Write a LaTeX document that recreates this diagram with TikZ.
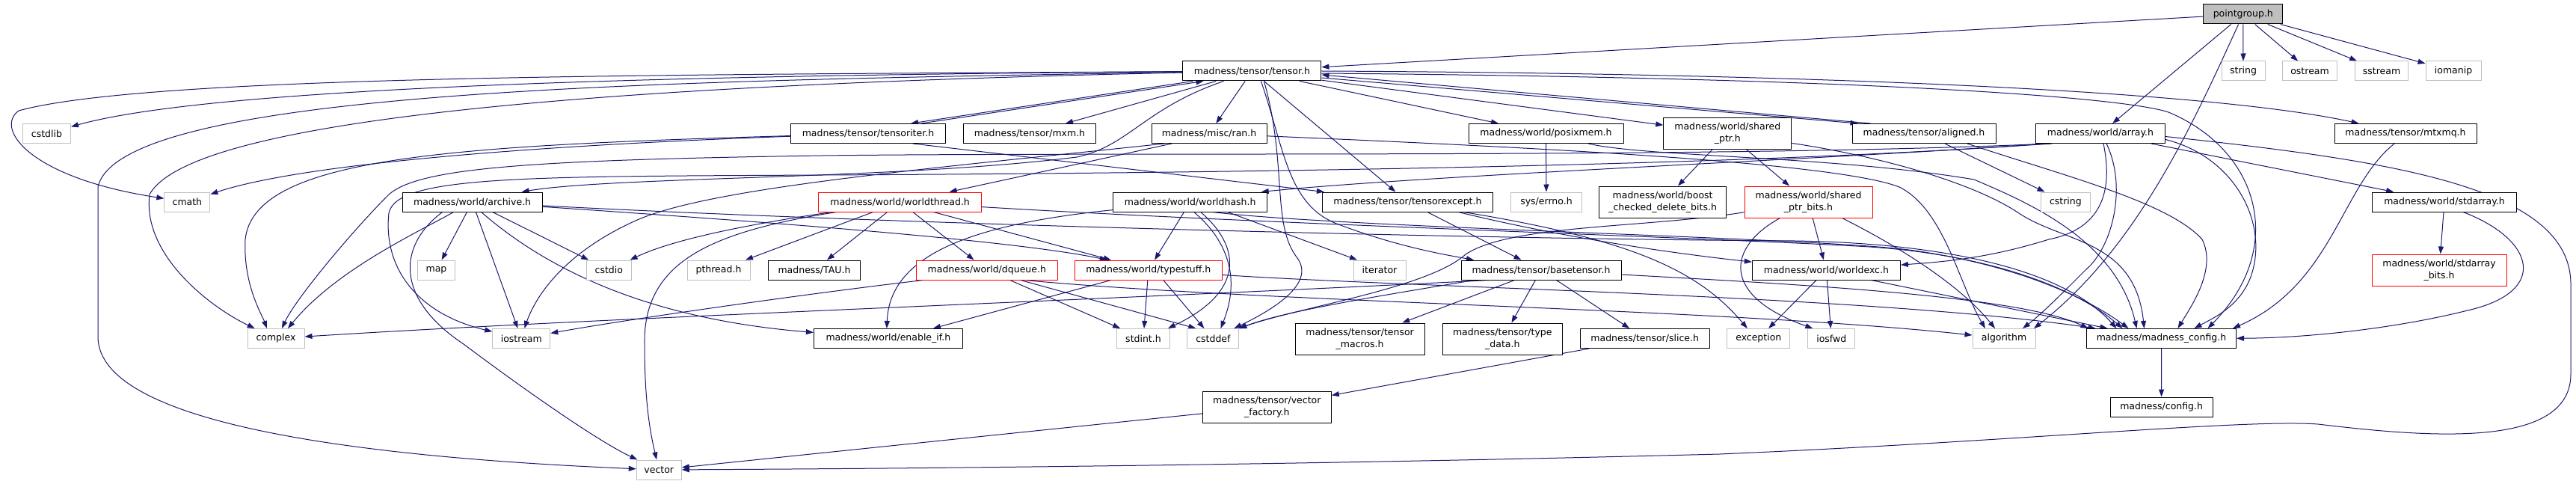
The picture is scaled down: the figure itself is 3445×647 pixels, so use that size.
\documentclass[tikz,border=0pt]{standalone}
\usepackage{fontspec}
\setmainfont{DejaVu Sans}
\usetikzlibrary{arrows.meta}
\pgfdeclarelayer{bg}
\pgfsetlayers{bg,main}
\definecolor{edgec}{HTML}{191970}
\definecolor{sysb}{HTML}{BFBFBF}
\definecolor{redb}{HTML}{FF0000}
\begin{document}
\begin{tikzpicture}[x=1pt,y=-1pt,
  nbox/.style={draw=black, line width=1pt, fill=white, inner sep=0pt, minimum height=26pt, align=center, font=\fontsize{12.5}{16}\selectfont},
  sbox/.style={nbox, draw=sysb},
  rbox/.style={nbox, draw=redb},
  pgbox/.style={nbox, fill=sysb},
  tall/.style={minimum height=42pt},
  e/.style={draw=edgec, line width=1pt, -{Triangle[length=10pt,width=7pt]}}]
\useasboundingbox (0,0) rectangle (3445,647);
% row 0-1
\node[pgbox, minimum width=106] (pg) at (2999.8,19) {pointgroup.h};
\node[nbox, minimum width=185] (tensor) at (1674.4,95) {madness/tensor/tensor.h};
\node[sbox, minimum width=58] (string) at (3000,95) {string};
\node[sbox, minimum width=73] (ostream) at (3089,95) {ostream};
\node[sbox, minimum width=71] (sstream) at (3185,95) {sstream};
\node[sbox, minimum width=74] (iomanip) at (3281,95) {iomanip};
% row 2
\node[sbox, minimum width=64] (cstdlib) at (62.5,178.5) {cstdlib};
\node[nbox, minimum width=207] (titer) at (1161,178.5) {madness/tensor/tensoriter.h};
\node[nbox, minimum width=177] (mxm) at (1377,178.5) {madness/tensor/mxm.h};
\node[nbox, minimum width=154] (ran) at (1617,178.5) {madness/misc/ran.h};
\node[nbox, minimum width=207] (posix) at (2067.5,178.5) {madness/world/posixmem.h};
\node[nbox, tall, minimum width=171] (sptr) at (2310.3,178.5) {madness/world/shared\\\_ptr.h};
\node[nbox, minimum width=192] (aligned) at (2573,178.5) {madness/tensor/aligned.h};
\node[nbox, minimum width=173] (array) at (2809,178.5) {madness/world/array.h};
\node[nbox, minimum width=190] (mtxmq) at (3217,178.5) {madness/tensor/mtxmq.h};
% row 3
\node[sbox, minimum width=61] (cmath) at (250.4,270) {cmath};
\node[nbox, minimum width=187] (archive) at (631.6,270) {madness/world/archive.h};
\node[rbox, minimum width=218] (wthread) at (1203.6,270) {madness/world/worldthread.h};
\node[nbox, minimum width=206] (whash) at (1591.7,270) {madness/world/worldhash.h};
\node[nbox, minimum width=228] (texcept) at (1882.4,270) {madness/tensor/tensorexcept.h};
\node[sbox, minimum width=95] (errno) at (2068,270) {sys/errno.h};
\node[nbox, tall, minimum width=170] (boost) at (2223.6,270) {madness/world/boost\\\_checked\_delete\_bits.h};
\node[rbox, tall, minimum width=171] (sptrbits) at (2418.5,270) {madness/world/shared\\\_ptr\_bits.h};
\node[sbox, minimum width=66] (cstring) at (2762.4,270) {cstring};
\node[nbox, minimum width=193] (stdarray) at (3269,270) {madness/world/stdarray.h};
% row 4
\node[sbox, minimum width=50] (map) at (583.5,361) {map};
\node[sbox, minimum width=60] (cstdio) at (814.3,361) {cstdio};
\node[sbox, minimum width=84] (pthread) at (961,361) {pthread.h};
\node[nbox, minimum width=123] (tau) at (1089,361) {madness/TAU.h};
\node[rbox, minimum width=189] (dqueue) at (1319.8,361) {madness/world/dqueue.h};
\node[rbox, minimum width=197] (typestuff) at (1535.8,361) {madness/world/typestuff.h};
\node[sbox, minimum width=70] (iterator) at (1845,361) {iterator};
\node[nbox, minimum width=214] (basetensor) at (2061,361) {madness/tensor/basetensor.h};
\node[nbox, minimum width=198] (worldexc) at (2442.4,361) {madness/world/worldexc.h};
\node[rbox, tall, minimum width=180] (stdarraybits) at (3262,361) {madness/world/stdarray\\\_bits.h};
% row 5
\node[sbox, minimum width=76] (complex) at (369,452.5) {complex};
\node[sbox, minimum width=77] (iostream) at (697.3,452.5) {iostream};
\node[nbox, minimum width=199] (enableif) at (1187.9,452.5) {madness/world/enable\_if.h};
\node[sbox, minimum width=71] (stdint) at (1529,452.5) {stdint.h};
\node[sbox, minimum width=69] (cstddef) at (1622.4,452.5) {cstddef};
\node[nbox, tall, minimum width=173] (tmacros) at (1818.6,453) {madness/tensor/tensor\\\_macros.h};
\node[nbox, tall, minimum width=160] (typedata) at (2009.3,453) {madness/tensor/type\\\_data.h};
\node[nbox, minimum width=173] (slice) at (2199.7,452.5) {madness/tensor/slice.h};
\node[sbox, minimum width=84] (exception) at (2351.8,452.5) {exception};
\node[sbox, minimum width=63] (iosfwd) at (2449.3,452.5) {iosfwd};
\node[sbox, minimum width=84] (algorithm) at (2680,452.5) {algorithm};
\node[nbox, minimum width=200] (mconfig) at (2890.5,452.5) {madness/madness\_config.h};
% row 6-7
\node[nbox, tall, minimum width=172] (vfactory) at (1694.3,544) {madness/tensor/vector\\\_factory.h};
\node[nbox, minimum width=137] (config) at (2890.6,544) {madness/config.h};
\node[sbox, minimum width=60] (vector) at (881.3,628) {vector};

\begin{pgfonlayer}{bg}
\fill[white] (0,0) rectangle (3445,647);
% pointgroup
\draw[e] (pg) -- (string);
\draw[e] (pg) -- (ostream);
\draw[e] (pg) -- (sstream);
\draw[e] (pg) -- (iomanip);
\draw[e] (pg) -- (tensor);
\draw[e] (pg) -- (array);
\draw[e] (pg) .. controls (2935,160) and (2860,330) .. ([xshift=40pt]algorithm.north);
% tensor
\draw[e] (tensor) .. controls (1000,100) and (300,112) .. (cstdlib);
\draw[e] (tensor) .. controls (900,100) and (200,100) .. (25,148) .. controls (-8,172) and (40,238) .. (cmath);
\draw[e] (tensor) .. controls (900,108) and (160,118) .. (131,250) -- (131,450) .. controls (131,570) and (500,612) .. (vector);
\draw[e] (tensor) .. controls (900,112) and (260,150) .. (200,260) .. controls (190,340) and (280,410) .. (complex);
\draw[e] ([xshift=14pt]tensor.south west) -- ([xshift=-47pt]titer.north east);
\draw[e] ([xshift=-33pt]titer.north east) -- ([xshift=28pt]tensor.south west);
\draw[e] (tensor) -- (mxm);
\draw[e] (tensor) -- (ran);
\draw[e] (tensor) -- (posix);
\draw[e] (tensor) -- (sptr);
\draw[e] ([yshift=-9pt]tensor.east) -- ([xshift=8pt]aligned.north west);
\draw[e] ([xshift=25pt]aligned.north west) -- ([yshift=-5pt]tensor.east);
\draw[e] (tensor.east) .. controls (2400,98) and (2950,120) .. ([xshift=33pt]mtxmq.north west);
\draw[e] ([yshift=-3pt]tensor.east) .. controls (2500,104) and (2840,130) .. (2900,150) .. controls (3020,200) and (3060,330) .. ([xshift=62pt]mconfig.north);
\draw[e] ([xshift=-38pt]tensor.south) .. controls (1530,145) and (1510,195) .. (1440,210) .. controls (1200,240) and (820,236) .. ([xshift=66pt]archive.north);
\draw[e] (tensor) -- (texcept);
\draw[e] ([xshift=12pt]tensor.south) .. controls (1718,200) and (1722,275) .. (1790,300) .. controls (1870,330) and (1930,340) .. ([xshift=-90pt]basetensor.north);
\draw[e] ([xshift=16pt]tensor.south) .. controls (1722,220) and (1700,300) .. (1735,345) .. controls (1760,380) and (1700,415) .. ([xshift=28pt]cstddef.north);
% tensoriter
\draw[e] (titer) .. controls (600,195) and (340,210) .. (328,320) .. controls (325,380) and (350,420) .. ([xshift=-12pt]complex.north);
\draw[e] (titer) .. controls (700,195) and (400,220) .. (cmath);
\draw[e] ([xshift=60pt]titer.south) -- ([xshift=3pt]texcept.north west);
% ran
\draw[e] ([xshift=-50pt]ran.south) -- ([xshift=66pt]wthread.north);
\draw[e] ([xshift=-60pt]ran.south) .. controls (1250,225) and (950,250) .. (850,295) .. controls (750,340) and (715,400) .. ([xshift=4pt]iostream.north);
\draw[e] (ran) .. controls (2000,195) and (2450,215) .. (2540,250) .. controls (2600,280) and (2620,380) .. ([xshift=-25pt]algorithm.north);
% posixmem
\draw[e] (posix) -- (errno);
\draw[e] (posix) .. controls (2200,210) and (2450,208) .. (2640,240) .. controls (2710,270) and (2830,320) .. ([xshift=-33pt]mconfig.north);
% shared_ptr
\draw[e] (sptr) -- (boost);
\draw[e] (sptr) -- (sptrbits);
\draw[e] (sptr) .. controls (2520,210) and (2640,245) .. (2700,285) .. controls (2760,325) and (2855,320) .. ([xshift=-23pt]mconfig.north);
% aligned
\draw[e] (aligned) -- (cstring);
\draw[e] ([xshift=58pt]aligned.south) .. controls (2760,235) and (2900,270) .. (2945,320) .. controls (2965,360) and (2930,410) .. ([xshift=22pt]mconfig.north);
% array
\draw[e] ([xshift=-65pt]array.south) .. controls (2400,215) and (1900,235) .. ([xshift=95pt]whash.north);
\draw[e] ([xshift=-68pt]array.south) .. controls (2300,212) and (1500,203) .. (1100,208) .. controls (700,214) and (560,225) .. (520,260) .. controls (470,310) and (395,400) .. ([xshift=8pt]complex.north);
\draw[e] ([xshift=-75pt]array.south) .. controls (2300,225) and (1500,232) .. (1100,234) .. controls (700,236) and (530,235) .. (520,285) .. controls (512,360) and (560,420) .. (iostream);
\draw[e] (array) -- (stdarray);
\draw[e] ([yshift=-4pt]array.east) .. controls (3200,215) and (3438,250) .. (3438,380) -- (3438,500) .. controls (3438,600) and (3250,585) .. (3100,567) .. controls (3000,560) and (2700,590) .. (2300,607) .. controls (1800,620) and (1300,626) .. (vector);
\draw[e] ([yshift=-8pt]array.east) .. controls (2990,210) and (3035,300) .. (3010,370) .. controls (2995,410) and (2960,425) .. ([xshift=44pt]mconfig.north);
\draw[e] ([xshift=8pt]array.south) .. controls (2845,250) and (2825,330) .. (2790,360) .. controls (2760,390) and (2730,420) .. ([xshift=25pt]algorithm.north);
\draw[e] ([xshift=4pt]array.south) .. controls (2825,250) and (2815,305) .. (2740,320) .. controls (2660,345) and (2600,350) .. (worldexc);
% stdarray
\draw[e] (stdarray) -- (stdarraybits);
\draw[e] ([xshift=25pt]stdarray.south) .. controls (3390,320) and (3410,390) .. (3300,415) .. controls (3200,440) and (3080,452) .. (mconfig);
% mtxmq
\draw[e] ([xshift=-15pt]mtxmq.south) .. controls (3130,250) and (3120,380) .. ([xshift=-5pt]mconfig.north east);
% madness_config
\draw[e] (mconfig) -- (config);
% archive
\draw[e] (archive) -- (map);
\draw[e] (archive) -- (iostream);
\draw[e] (archive) -- (cstdio);
\draw[e] ([xshift=-25pt]archive.south) .. controls (560,310) and (450,360) .. ([xshift=16pt]complex.north);
\draw[e] ([xshift=-40pt]archive.south) .. controls (530,330) and (530,400) .. (620,460) .. controls (700,520) and (800,590) .. (vector);
\draw[e] ([xshift=12pt]archive.south) .. controls (720,350) and (850,425) .. (enableif);
\draw[e] (archive) .. controls (1000,295) and (1350,320) .. ([xshift=-55pt]typestuff.north);
\draw[e] (archive) .. controls (1200,300) and (2000,320) .. (2400,322) .. controls (2600,325) and (2760,360) .. ([xshift=-60pt]mconfig.north);
% worldthread
\draw[e] (wthread) .. controls (1000,300) and (900,320) .. (cstdio);
\draw[e] ([xshift=-85pt]wthread.south) .. controls (950,310) and (860,350) .. (862,460) .. controls (862,540) and (870,580) .. (vector);
\draw[e] (wthread) -- (pthread);
\draw[e] (wthread) -- (tau);
\draw[e] (wthread) -- (dqueue);
\draw[e] ([xshift=45pt]wthread.south) -- ([xshift=-50pt]typestuff.north);
\draw[e] (wthread) .. controls (1700,300) and (2300,318) .. (2500,330) .. controls (2650,340) and (2770,380) .. ([xshift=-52pt]mconfig.north);
% dqueue
\draw[e] ([xshift=-85pt]dqueue.south) .. controls (1100,390) and (850,425) .. (iostream);
\draw[e] (dqueue) -- (stdint);
\draw[e] ([xshift=45pt]dqueue.south) -- ([xshift=-23pt]cstddef.north);
\draw[e] ([xshift=50pt]dqueue.south) .. controls (1700,405) and (2300,412) .. (algorithm);
% typestuff
\draw[e] ([xshift=-50pt]typestuff.south) -- ([xshift=60pt]enableif.north);
\draw[e] (typestuff) -- (stdint);
\draw[e] ([xshift=20pt]typestuff.south) -- ([xshift=-12pt]cstddef.north);
\draw[e] (typestuff) .. controls (1900,385) and (2500,395) .. ([xshift=-88pt]mconfig.north);
% worldhash
\draw[e] (whash) -- (typestuff);
\draw[e] (whash) .. controls (1300,300) and (1190,340) .. ([xshift=-2pt]enableif.north);
\draw[e] ([xshift=14pt]whash.south) .. controls (1660,330) and (1665,390) .. ([xshift=33pt]stdint.north);
\draw[e] ([xshift=5pt]whash.south) .. controls (1640,320) and (1660,370) .. ([xshift=10pt]cstddef.north);
\draw[e] ([xshift=50pt]whash.south) -- ([xshift=-30pt]iterator.north);
\draw[e] ([xshift=30pt]whash.south) .. controls (1800,305) and (2450,318) .. (2560,335) .. controls (2680,352) and (2780,390) .. ([xshift=-44pt]mconfig.north);
% tensorexcept
\draw[e] (texcept) -- (basetensor);
\draw[e] ([xshift=68pt]texcept.south) .. controls (2100,320) and (2250,340) .. (worldexc);
\draw[e] ([xshift=75pt]texcept.south) .. controls (2180,320) and (2270,360) .. ([xshift=-15pt]exception.north);
% basetensor
\draw[e] (basetensor) -- (tmacros);
\draw[e] (basetensor) -- (typedata);
\draw[e] (basetensor) -- (slice);
\draw[e] ([xshift=-70pt]basetensor.south) .. controls (1500,400) and (800,425) .. (complex);
\draw[e] ([xshift=-90pt]basetensor.south) .. controls (1850,395) and (1720,415) .. (cstddef);
\draw[e] (basetensor) .. controls (2400,380) and (2700,395) .. ([xshift=-98pt]mconfig.north);
% slice, vector_factory
\draw[e] (slice) -- (vfactory);
\draw[e] (vfactory) -- (vector);
% shared_ptr_bits
\draw[e] (sptrbits) .. controls (2200,305) and (2020,300) .. (1960,340) .. controls (1910,385) and (1740,410) .. ([xshift=34pt]cstddef.north);
\draw[e] (sptrbits) -- (worldexc);
\draw[e] ([xshift=-38pt]sptrbits.south) .. controls (2310,330) and (2300,395) .. ([xshift=-25pt]iosfwd.north);
\draw[e] ([xshift=45pt]sptrbits.south) .. controls (2540,330) and (2620,380) .. ([xshift=-12pt]algorithm.north);
% worldexc
\draw[e] (worldexc) -- (exception);
\draw[e] (worldexc) -- (iosfwd);
\draw[e] ([xshift=60pt]worldexc.south) -- ([xshift=-72pt]mconfig.north);
\end{pgfonlayer}
\end{tikzpicture}
\end{document}
